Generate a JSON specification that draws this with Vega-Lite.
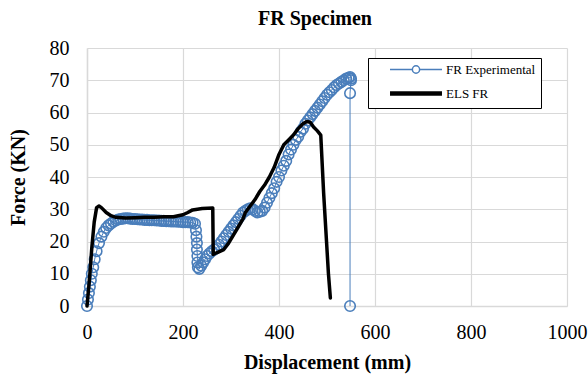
{
  "$schema": "https://vega.github.io/schema/vega-lite/v6.json",
  "width": 480,
  "height": 258,
  "autosize": {"type": "none"},
  "padding": {"left": 87, "top": 48, "right": 21, "bottom": 68},
  "background": "white",
  "title": {"text": "FR Specimen", "font": "Liberation Serif", "fontSize": 20, "fontWeight": "bold", "color": "black", "anchor": "middle", "frame": "group", "dx": -12, "offset": 9},
  "config": {
    "view": {"stroke": null},
    "font": "Liberation Serif"
  },
  "datasets": {
    "exp": [
      {"s":"FR Experimental","i":1,"x":0,"y":0},{"s":"FR Experimental","i":2,"x":2,"y":2},{"s":"FR Experimental","i":3,"x":4,"y":4},{"s":"FR Experimental","i":4,"x":6,"y":6},{"s":"FR Experimental","i":5,"x":8,"y":8},
      {"s":"FR Experimental","i":6,"x":10,"y":10},{"s":"FR Experimental","i":7,"x":13,"y":12},{"s":"FR Experimental","i":8,"x":16,"y":14.5},{"s":"FR Experimental","i":9,"x":20,"y":17},{"s":"FR Experimental","i":10,"x":25,"y":19.5},
      {"s":"FR Experimental","i":11,"x":30,"y":21.5},{"s":"FR Experimental","i":12,"x":35,"y":23},{"s":"FR Experimental","i":13,"x":40,"y":24.2},{"s":"FR Experimental","i":14,"x":45,"y":25},{"s":"FR Experimental","i":15,"x":50,"y":25.6},
      {"s":"FR Experimental","i":16,"x":55,"y":26.1},{"s":"FR Experimental","i":17,"x":60,"y":26.5},{"s":"FR Experimental","i":18,"x":65,"y":26.8},{"s":"FR Experimental","i":19,"x":70,"y":27},{"s":"FR Experimental","i":20,"x":75,"y":27.1},
      {"s":"FR Experimental","i":21,"x":80,"y":27.2},{"s":"FR Experimental","i":22,"x":85,"y":27.2},{"s":"FR Experimental","i":23,"x":90,"y":27.1},{"s":"FR Experimental","i":24,"x":95,"y":27},{"s":"FR Experimental","i":25,"x":100,"y":27},
      {"s":"FR Experimental","i":26,"x":105,"y":26.9},{"s":"FR Experimental","i":27,"x":110,"y":26.8},{"s":"FR Experimental","i":28,"x":115,"y":26.8},{"s":"FR Experimental","i":29,"x":120,"y":26.7},{"s":"FR Experimental","i":30,"x":125,"y":26.7},
      {"s":"FR Experimental","i":31,"x":130,"y":26.6},{"s":"FR Experimental","i":32,"x":135,"y":26.6},{"s":"FR Experimental","i":33,"x":140,"y":26.6},{"s":"FR Experimental","i":34,"x":145,"y":26.5},{"s":"FR Experimental","i":35,"x":150,"y":26.5},
      {"s":"FR Experimental","i":36,"x":155,"y":26.4},{"s":"FR Experimental","i":37,"x":160,"y":26.4},{"s":"FR Experimental","i":38,"x":165,"y":26.3},{"s":"FR Experimental","i":39,"x":170,"y":26.3},{"s":"FR Experimental","i":40,"x":175,"y":26.2},
      {"s":"FR Experimental","i":41,"x":180,"y":26.2},{"s":"FR Experimental","i":42,"x":185,"y":26.2},{"s":"FR Experimental","i":43,"x":190,"y":26.1},{"s":"FR Experimental","i":44,"x":195,"y":26.1},{"s":"FR Experimental","i":45,"x":200,"y":26},
      {"s":"FR Experimental","i":46,"x":205,"y":26},{"s":"FR Experimental","i":47,"x":210,"y":26},{"s":"FR Experimental","i":48,"x":215,"y":25.9},{"s":"FR Experimental","i":49,"x":220,"y":25.8},{"s":"FR Experimental","i":50,"x":225,"y":25.5},
      {"s":"FR Experimental","i":51,"x":227,"y":23.5},{"s":"FR Experimental","i":52,"x":228,"y":21.5},{"s":"FR Experimental","i":53,"x":229,"y":19.5},{"s":"FR Experimental","i":54,"x":229,"y":17.5},{"s":"FR Experimental","i":55,"x":230,"y":15.5},
      {"s":"FR Experimental","i":56,"x":230,"y":13.5},{"s":"FR Experimental","i":57,"x":231,"y":12},{"s":"FR Experimental","i":58,"x":234,"y":11.5},{"s":"FR Experimental","i":59,"x":238,"y":12.5},{"s":"FR Experimental","i":60,"x":242,"y":13.5},
      {"s":"FR Experimental","i":61,"x":246,"y":14.5},{"s":"FR Experimental","i":62,"x":250,"y":15.5},{"s":"FR Experimental","i":63,"x":255,"y":16.3},{"s":"FR Experimental","i":64,"x":260,"y":17},{"s":"FR Experimental","i":65,"x":265,"y":17.5},
      {"s":"FR Experimental","i":66,"x":270,"y":18},{"s":"FR Experimental","i":67,"x":275,"y":19},{"s":"FR Experimental","i":68,"x":280,"y":20},{"s":"FR Experimental","i":69,"x":285,"y":21},{"s":"FR Experimental","i":70,"x":290,"y":22},
      {"s":"FR Experimental","i":71,"x":295,"y":23},{"s":"FR Experimental","i":72,"x":300,"y":24},{"s":"FR Experimental","i":73,"x":305,"y":25},{"s":"FR Experimental","i":74,"x":310,"y":26},{"s":"FR Experimental","i":75,"x":315,"y":27},
      {"s":"FR Experimental","i":76,"x":320,"y":28},{"s":"FR Experimental","i":77,"x":325,"y":29},{"s":"FR Experimental","i":78,"x":330,"y":29.5},{"s":"FR Experimental","i":79,"x":335,"y":30},{"s":"FR Experimental","i":80,"x":340,"y":30.3},
      {"s":"FR Experimental","i":81,"x":345,"y":30},{"s":"FR Experimental","i":82,"x":350,"y":29.5},{"s":"FR Experimental","i":83,"x":355,"y":29},{"s":"FR Experimental","i":84,"x":360,"y":29.2},{"s":"FR Experimental","i":85,"x":365,"y":29.5},
      {"s":"FR Experimental","i":86,"x":370,"y":30.5},{"s":"FR Experimental","i":87,"x":375,"y":32},{"s":"FR Experimental","i":88,"x":380,"y":33.5},{"s":"FR Experimental","i":89,"x":385,"y":35},{"s":"FR Experimental","i":90,"x":390,"y":36.5},
      {"s":"FR Experimental","i":91,"x":395,"y":38.5},{"s":"FR Experimental","i":92,"x":400,"y":40},{"s":"FR Experimental","i":93,"x":405,"y":42},{"s":"FR Experimental","i":94,"x":410,"y":43.5},{"s":"FR Experimental","i":95,"x":415,"y":45},
      {"s":"FR Experimental","i":96,"x":420,"y":47},{"s":"FR Experimental","i":97,"x":425,"y":48.5},{"s":"FR Experimental","i":98,"x":430,"y":50},{"s":"FR Experimental","i":99,"x":435,"y":51.5},{"s":"FR Experimental","i":100,"x":440,"y":52.5},
      {"s":"FR Experimental","i":101,"x":445,"y":54},{"s":"FR Experimental","i":102,"x":450,"y":55},{"s":"FR Experimental","i":103,"x":455,"y":56.5},{"s":"FR Experimental","i":104,"x":460,"y":57.5},{"s":"FR Experimental","i":105,"x":465,"y":58.5},
      {"s":"FR Experimental","i":106,"x":470,"y":59.5},{"s":"FR Experimental","i":107,"x":475,"y":60.5},{"s":"FR Experimental","i":108,"x":480,"y":61.5},{"s":"FR Experimental","i":109,"x":485,"y":62.5},{"s":"FR Experimental","i":110,"x":490,"y":63.5},
      {"s":"FR Experimental","i":111,"x":495,"y":64.5},{"s":"FR Experimental","i":112,"x":500,"y":65.5},{"s":"FR Experimental","i":113,"x":505,"y":66.3},{"s":"FR Experimental","i":114,"x":510,"y":67},{"s":"FR Experimental","i":115,"x":515,"y":67.8},
      {"s":"FR Experimental","i":116,"x":520,"y":68.5},{"s":"FR Experimental","i":117,"x":525,"y":69},{"s":"FR Experimental","i":118,"x":530,"y":69.5},{"s":"FR Experimental","i":119,"x":535,"y":70},{"s":"FR Experimental","i":120,"x":540,"y":70.5},
      {"s":"FR Experimental","i":121,"x":545,"y":70.8},{"s":"FR Experimental","i":122,"x":548,"y":71},{"s":"FR Experimental","i":123,"x":550,"y":70.5},{"s":"FR Experimental","i":124,"x":550,"y":70},{"s":"FR Experimental","i":125,"x":548,"y":66},
      {"s":"FR Experimental","i":126,"x":548,"y":0}
    ],
    "els": [
      {"s":"ELS FR","i":1,"x":0,"y":0},{"s":"ELS FR","i":2,"x":5,"y":8},{"s":"ELS FR","i":3,"x":10,"y":18},{"s":"ELS FR","i":4,"x":15,"y":26},{"s":"ELS FR","i":5,"x":20,"y":30.5},
      {"s":"ELS FR","i":6,"x":25,"y":31},{"s":"ELS FR","i":7,"x":30,"y":30.5},{"s":"ELS FR","i":8,"x":40,"y":29},{"s":"ELS FR","i":9,"x":50,"y":28},{"s":"ELS FR","i":10,"x":60,"y":27.5},
      {"s":"ELS FR","i":11,"x":80,"y":27.3},{"s":"ELS FR","i":12,"x":100,"y":27.4},{"s":"ELS FR","i":13,"x":120,"y":27.5},{"s":"ELS FR","i":14,"x":140,"y":27.5},{"s":"ELS FR","i":15,"x":160,"y":27.7},
      {"s":"ELS FR","i":16,"x":180,"y":27.7},{"s":"ELS FR","i":17,"x":190,"y":28},{"s":"ELS FR","i":18,"x":200,"y":28.3},{"s":"ELS FR","i":19,"x":210,"y":29},{"s":"ELS FR","i":20,"x":220,"y":29.8},
      {"s":"ELS FR","i":21,"x":240,"y":30.2},{"s":"ELS FR","i":22,"x":262,"y":30.4},{"s":"ELS FR","i":23,"x":263,"y":16},{"s":"ELS FR","i":24,"x":270,"y":16.5},{"s":"ELS FR","i":25,"x":285,"y":17.5},
      {"s":"ELS FR","i":26,"x":295,"y":19.5},{"s":"ELS FR","i":27,"x":305,"y":22},{"s":"ELS FR","i":28,"x":315,"y":24.5},{"s":"ELS FR","i":29,"x":325,"y":27},{"s":"ELS FR","i":30,"x":330,"y":29},
      {"s":"ELS FR","i":31,"x":340,"y":31},{"s":"ELS FR","i":32,"x":350,"y":33},{"s":"ELS FR","i":33,"x":360,"y":35.5},{"s":"ELS FR","i":34,"x":370,"y":37.5},{"s":"ELS FR","i":35,"x":380,"y":40},
      {"s":"ELS FR","i":36,"x":390,"y":43},{"s":"ELS FR","i":37,"x":395,"y":45},{"s":"ELS FR","i":38,"x":400,"y":47},{"s":"ELS FR","i":39,"x":410,"y":50},{"s":"ELS FR","i":40,"x":420,"y":51.5},
      {"s":"ELS FR","i":41,"x":430,"y":53},{"s":"ELS FR","i":42,"x":440,"y":55},{"s":"ELS FR","i":43,"x":450,"y":56.5},{"s":"ELS FR","i":44,"x":458,"y":57.2},{"s":"ELS FR","i":45,"x":465,"y":57},
      {"s":"ELS FR","i":46,"x":472,"y":55.5},{"s":"ELS FR","i":47,"x":480,"y":54.3},{"s":"ELS FR","i":48,"x":487,"y":53},{"s":"ELS FR","i":49,"x":493,"y":35},{"s":"ELS FR","i":50,"x":499,"y":20},
      {"s":"ELS FR","i":51,"x":503,"y":10},{"s":"ELS FR","i":52,"x":507,"y":2.5}
    ]
  },
  "encoding": {
    "x": {"field": "x", "type": "quantitative",
      "scale": {"domain": [0, 1000], "nice": false},
      "axis": {"title": "Displacement (mm)", "values": [0,200,400,600,800,1000], "format": "d", "grid": true, "gridColor": "#d9d9d9", "gridWidth": 1.2,
        "domainColor": "#d9d9d9", "domainWidth": 1.5, "ticks": false, "labelPadding": 16, "labelFontSize": 20, "labelFont": "Liberation Serif", "labelColor": "black",
        "titleFont": "Liberation Serif", "titleFontSize": 20, "titleFontWeight": "bold", "titleColor": "black", "titlePadding": 10, "labelFlush": false}},
    "y": {"field": "y", "type": "quantitative",
      "scale": {"domain": [0, 80], "nice": false},
      "axis": {"title": "Force (KN)", "values": [0,10,20,30,40,50,60,70,80], "grid": true, "gridColor": "#d9d9d9", "gridWidth": 1.2,
        "domainColor": "#d9d9d9", "domainWidth": 1.5, "ticks": false, "labelPadding": 18, "labelFontSize": 20, "labelFont": "Liberation Serif", "labelColor": "black",
        "titleFont": "Liberation Serif", "titleFontSize": 20, "titleFontWeight": "bold", "titleColor": "black", "titlePadding": 21}}
  },
  "layer": [
    {
      "data": {"name": "exp"},
      "mark": {"type": "line", "strokeWidth": 1},
      "encoding": {
        "order": {"field": "i", "type": "quantitative"},
        "color": {"field": "s", "type": "nominal",
          "scale": {"domain": ["FR Experimental", "ELS FR"], "range": ["#4A7EBB", "#000000"]},
          "legend": {"title": null, "orient": "none", "legendX": 281, "legendY": 10,
            "strokeColor": "black", "fillColor": "white", "padding": 5,
            "labelFont": "Liberation Serif", "labelFontSize": 13, "labelColor": "black", "labelOffset": 60,
            "symbolSize": 2700, "symbolType": "stroke", "symbolStrokeWidth": 3, "rowPadding": 7,
            "encode": {"symbols": {"update": {
              "x": {"value": 43},
              "shape": {"signal": "datum.value === 'ELS FR' ? 'stroke' : 'M-1,0L-0.14,0M0.14,0A0.14,0.14 0 1 1 -0.14,0A0.14,0.14 0 1 1 0.14,0M0.14,0L1,0'"},
              "strokeWidth": {"signal": "datum.value === 'ELS FR' ? 4.5 : 1.5"}
            }}}
          }}
      }
    },
    {
      "data": {"name": "exp"},
      "mark": {"type": "point", "shape": "circle", "filled": false, "size": 110, "strokeWidth": 1.6, "opacity": 1},
      "encoding": {
        "color": {"field": "s", "type": "nominal", "legend": null}
      }
    },
    {
      "data": {"name": "els"},
      "mark": {"type": "line", "strokeWidth": 3.5, "strokeJoin": "round", "strokeCap": "round"},
      "encoding": {
        "order": {"field": "i", "type": "quantitative"},
        "color": {"field": "s", "type": "nominal", "legend": null}
      }
    }
  ]
}
